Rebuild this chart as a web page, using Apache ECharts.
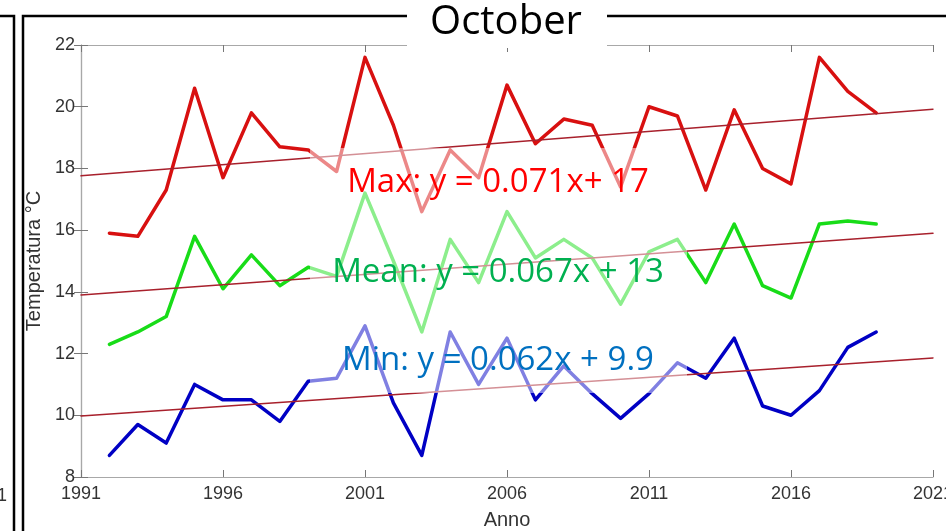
<!DOCTYPE html>
<html>
<head>
<meta charset="utf-8">
<script src="https://cdn.jsdelivr.net/npm/echarts@6/dist/echarts.min.js"></script>
<style>
html,body{margin:0;padding:0;background:#fff;}
#chart{width:946px;height:531px;}
</style>
</head>
<body>
<div id="chart"></div>
<script>
// ---- data ----
const years = [1992,1993,1994,1995,1996,1997,1998,1999,2000,2001,2002,2003,2004,2005,2006,2007,2008,2009,2010,2011,2012,2013,2014,2015,2016,2017,2018,2019];
const maxTemp  = [15.9,15.8,17.3,20.6,17.7,19.8,18.7,18.6,17.9,21.6,19.4,16.6,18.6,17.7,20.7,18.8,19.6,19.4,17.4,20.0,19.7,17.3,19.9,18.0,17.5,21.6,20.5,19.8];
const meanTemp = [12.3,12.7,13.2,15.8,14.1,15.2,14.2,14.8,14.5,17.2,15.0,12.7,15.7,14.3,16.6,15.1,15.7,15.1,13.6,15.3,15.7,14.3,16.2,14.2,13.8,16.2,16.3,16.2];
const minTemp  = [8.7,9.7,9.1,11.0,10.5,10.5,9.8,11.1,11.2,12.9,10.4,8.7,12.7,11.0,12.5,10.5,11.6,10.7,9.9,10.7,11.7,11.2,12.5,10.3,10.0,10.8,12.2,12.7];
// trend lines: [year, value] at both ends of the axis
const trendYears = [1991, 2021];
const maxTrend  = [17.76, 19.92];
const meanTrend = [13.9, 15.9];
const minTrend  = [9.98, 11.86];
const eqLabels = ['Max: y = 0.071x+ 17', 'Mean: y = 0.067x + 13', 'Min: y = 0.062x + 9.9'];
const title = 'October';
const xName = 'Anno';
const yName = 'Temperatura °C';
const xStart = 1991, xEnd = 2021, xStep = 5;
const yMin = 8, yMax = 22, yStep = 2;

// ---- build ----
const toPairs = (xs, vs) => xs.map((y, i) => [y - xStart, vs[i]]);
const chart = echarts.init(document.getElementById('chart'), null, {renderer: 'canvas'});
const axisGray = '#a8a8a8';
const labelCol = '#333333';
const tickFont = 'Liberation Sans';

const lineSeries = (name, data, color, width, z) => ({
  name, type: 'line', data, symbol: 'none', silent: true, z,
  lineStyle: {color, width, cap: 'round', join: 'round'}, animation: false
});

const option = {
  animation: false,
  grid: {left: 81, right: 13, top: 45, bottom: 54, containLabel: false, outerBoundsMode: 'none'},
  xAxis: [{
    type: 'value', min: 0, max: xEnd - xStart, interval: xStep,
    axisLine: {show: true, lineStyle: {color: axisGray, width: 1.2}},
    axisTick: {show: true, inside: true, length: 7, lineStyle: {color: '#777'}},
    splitLine: {show: false},
    axisLabel: {formatter: v => String(v + xStart), color: labelCol, fontFamily: tickFont, fontSize: 18, margin: 8},
    name: xName, nameLocation: 'middle', nameGap: 33,
    nameTextStyle: {color: labelCol, fontFamily: tickFont, fontSize: 20}
  }, {
    type: 'value', position: 'top', min: 0, max: xEnd - xStart, interval: xStep,
    axisLine: {show: true, lineStyle: {color: axisGray, width: 1.2}},
    axisTick: {show: true, inside: true, length: 7, lineStyle: {color: '#777'}},
    splitLine: {show: false}, axisLabel: {show: false}
  }],
  yAxis: [{
    type: 'value', min: yMin, max: yMax, interval: yStep,
    axisLine: {show: true, lineStyle: {color: axisGray, width: 1.2}},
    axisTick: {show: true, inside: true, length: 7, lineStyle: {color: '#777'}},
    splitLine: {show: false},
    axisLabel: {color: labelCol, fontFamily: tickFont, fontSize: 18, margin: 6},
    name: yName, nameLocation: 'middle', nameGap: 29, nameRotate: 90,
    nameTextStyle: {color: labelCol, fontFamily: tickFont, fontSize: 20}
  }, {
    type: 'value', position: 'right', min: yMin, max: yMax, interval: yStep,
    axisLine: {show: true, lineStyle: {color: axisGray, width: 1.2}},
    axisTick: {show: true, inside: true, length: 7, lineStyle: {color: '#777'}},
    splitLine: {show: false}, axisLabel: {show: false}
  }],
  series: [
    lineSeries('Max', toPairs(years, maxTemp), '#d81010', 3.5, 2),
    lineSeries('Mean', toPairs(years, meanTemp), '#18dc18', 3.5, 2),
    lineSeries('Min', toPairs(years, minTemp), '#0000c4', 3.5, 2),
    lineSeries('Max trend', toPairs(trendYears, maxTrend), '#a8202c', 1.5, 3),
    lineSeries('Mean trend', toPairs(trendYears, meanTrend), '#a8202c', 1.5, 3),
    lineSeries('Min trend', toPairs(trendYears, minTrend), '#a8202c', 1.5, 3)
  ],
  graphic: {elements: [
    // frame lines of the slide panels
    {type: 'polyline', z: 100, shape: {points: [[0,16],[14,16],[14,531]]}, style: {stroke: '#000', lineWidth: 2.5, fill: null}},
    {type: 'polyline', z: 100, shape: {points: [[23,531],[23,16],[407,16]]}, style: {stroke: '#000', lineWidth: 2.5, fill: null}},
    {type: 'line', z: 100, shape: {x1: 607, y1: 16, x2: 946, y2: 16}, style: {stroke: '#000', lineWidth: 2.5}},
    {type: 'text', z: 100, style: {text: '1', x: 7, y: 496, align: 'right', verticalAlign: 'middle', fill: labelCol, font: '18px "Liberation Sans"'}},
    // title box
    {type: 'rect', z: 100, shape: {x: 407, y: 0, width: 200, height: 48}, style: {fill: '#fff'}},
    {type: 'text', z: 101, style: {text: title, x: 506, y: 23, align: 'center', verticalAlign: 'middle', fill: '#000', font: '40px "Open Sans"'}},
    // translucent text box
    {type: 'rect', z: 100, shape: {x: 310, y: 148, width: 377, height: 245}, style: {fill: 'rgba(255,255,255,0.5)'}},
    {type: 'text', z: 101, style: {text: eqLabels[0], x: 498, y: 183, align: 'center', verticalAlign: 'middle', fill: '#ff0000', font: '33px "Open Sans"'}},
    {type: 'text', z: 101, style: {text: eqLabels[1], x: 498, y: 273, align: 'center', verticalAlign: 'middle', fill: '#00b050', font: '33px "Open Sans"'}},
    {type: 'text', z: 101, style: {text: eqLabels[2], x: 498, y: 361, align: 'center', verticalAlign: 'middle', fill: '#0070c0', font: '33px "Open Sans"'}}
  ]}
};
chart.setOption(option);
</script>
</body>
</html>
